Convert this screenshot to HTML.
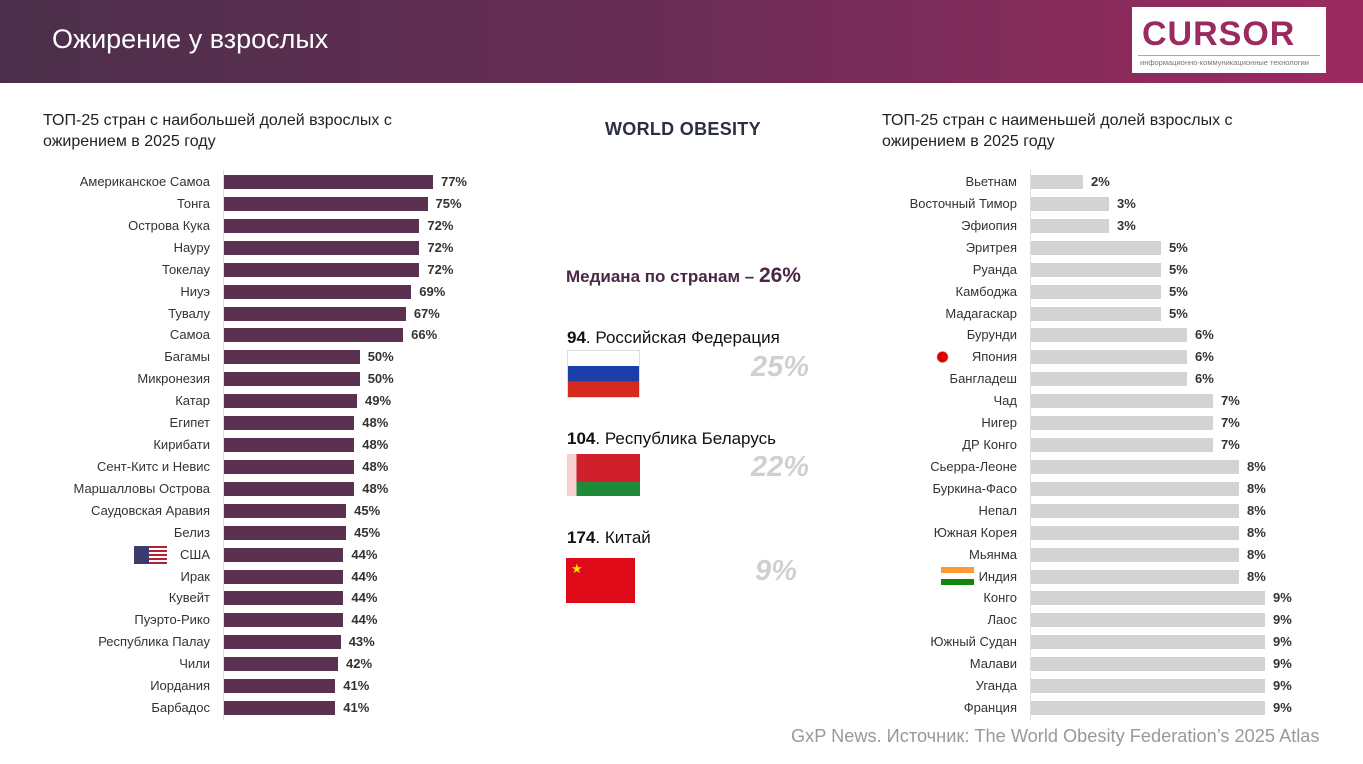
<!DOCTYPE html>
<html><head><meta charset="utf-8"><style>
body{margin:0;width:1363px;height:764px;position:relative;overflow:hidden;background:#fff;font-family:"Liberation Sans","DejaVu Sans",sans-serif;}
.abs{position:absolute;}
#header{left:0;top:0;width:1363px;height:83px;background:linear-gradient(90deg,#4b2f4a 0%,#6a2d55 50%,#9b2a5f 100%);}
#title{left:52px;top:24px;color:#fff;font-size:27px;}
#logo{left:1132px;top:7px;width:194px;height:66px;background:#fff;}
.ct{font-size:16px;color:#222;line-height:21px;}
.lbl{font-size:13px;color:#333;text-align:right;width:220px;white-space:nowrap;}
.val{font-size:13px;font-weight:bold;color:#333;}
.big{font-size:29px;font-weight:bold;font-style:italic;color:#d0d0d0;}
.nm{font-size:17px;color:#111;}
</style></head><body>
<div id="header" class="abs"></div>
<div id="title" class="abs">Ожирение у взрослых</div>
<div id="logo" class="abs">
 <div class="abs" style="left:10px;top:8px;font-size:34px;font-weight:bold;color:#9b2a5f;letter-spacing:1px;">CURSOR</div>
 <div class="abs" style="left:6px;top:48px;width:182px;border-top:1px solid #c9a;"></div>
 <div class="abs" style="left:8px;top:51px;font-size:7.5px;color:#777;white-space:nowrap;">информационно-коммуникационные технологии</div>
</div>
<div class="abs ct" style="left:43px;top:110px;">ТОП-25 стран с наибольшей долей взрослых с<br>ожирением в 2025 году</div>
<div class="abs ct" style="left:882px;top:110px;">ТОП-25 стран с наименьшей долей взрослых с<br>ожирением в 2025 году</div>
<div class="abs" style="left:605px;top:119px;font-size:18px;font-weight:bold;color:#2a2f45;letter-spacing:0.3px;">WORLD OBESITY</div>
<div class="abs" style="left:566px;top:264px;font-size:17px;font-weight:bold;color:#4a2845;">Медиана по странам – <span style="font-size:21px">26%</span></div>

<div class="abs nm" style="left:567px;top:328px;"><b>94</b>. Российская Федерация</div>
<div class="abs" style="left:567px;top:350px;width:73px;height:48px;background:linear-gradient(#fff 0 33%,#1a3fa8 33% 66%,#d52b1e 66%);box-shadow:0 0 0 1px #ddd inset;"></div>
<div class="abs big" style="left:751px;top:351px;">25%</div>
<div class="abs nm" style="left:567px;top:429px;"><b>104</b>. Республика Беларусь</div>
<div class="abs" style="left:567px;top:454px;width:73px;height:42px;background:linear-gradient(90deg,#f4d0d0 0 13%,transparent 13%),linear-gradient(#cf1f2a 0 66%,#1e8a3a 66%);"></div>
<div class="abs big" style="left:751px;top:451px;">22%</div>
<div class="abs nm" style="left:567px;top:528px;"><b>174</b>. Китай</div>
<div class="abs" style="left:566px;top:558px;width:69px;height:45px;background:#de0a17;"><span style="position:absolute;left:5px;top:3px;color:#ffde00;font-size:13px;">★</span></div>
<div class="abs big" style="left:755px;top:555px;">9%</div>

<div class="abs" style="left:791px;top:726px;font-size:18.2px;color:#999;white-space:nowrap;">GxP News. Источник: The World Obesity Federation’s 2025 Atlas</div>

<div id="left"></div>
<div id="right"></div>
<script>
const leftCats=["Американское Самоа","Тонга","Острова Кука","Науру","Токелау","Ниуэ","Тувалу","Самоа","Багамы","Микронезия","Катар","Египет","Кирибати","Сент-Китс и Невис","Маршалловы Острова","Саудовская Аравия","Белиз","США","Ирак","Кувейт","Пуэрто-Рико","Республика Палау","Чили","Иордания","Барбадос"];
const leftVals=[77,75,72,72,72,69,67,66,50,50,49,48,48,48,48,45,45,44,44,44,44,43,42,41,41];
const rightCats=["Вьетнам","Восточный Тимор","Эфиопия","Эритрея","Руанда","Камбоджа","Мадагаскар","Бурунди","Япония","Бангладеш","Чад","Нигер","ДР Конго","Сьерра-Леоне","Буркина-Фасо","Непал","Южная Корея","Мьянма","Индия","Конго","Лаос","Южный Судан","Малави","Уганда","Франция"];
const rightVals=[2,3,3,5,5,5,5,6,6,6,7,7,7,8,8,8,8,8,8,9,9,9,9,9,9];
function chart(id,cats,vals,x0,pxPer,color){
 const root=document.getElementById(id);
 const y0=182,step=21.92;
 const ax=document.createElement('div');ax.className='abs';
 ax.style.cssText=`left:${x0-1}px;top:170px;width:1px;height:550px;background:#ddd`;
 root.appendChild(ax);
 cats.forEach((c,i)=>{
  const y=y0+i*step, w=vals[i]*pxPer;
  const l=document.createElement('div');l.className='abs lbl';
  
  
  l.style.left=(x0-234)+'px';l.style.top=(y-8)+'px';l.textContent=c;root.appendChild(l);
  const b=document.createElement('div');b.className='abs';
  
  
  b.style.cssText=`left:${x0}px;top:${y-7}px;width:${w}px;height:14px;background:${color}`;root.appendChild(b);
  const v=document.createElement('div');v.className='abs val';
  
  
  v.style.left=(x0+w+8)+'px';v.style.top=(y-8)+'px';v.textContent=vals[i]+'%';root.appendChild(v);
 });
}
chart('left',leftCats,leftVals,224,2.714,'#5a3150');
chart('right',rightCats,rightVals,1031,26,'#d3d3d3');
function flag(name,left,top,bg){const f=document.createElement('div');f.className='abs';
 
 
 f.style.cssText=`left:${left}px;top:${top}px;width:33px;height:18px;background:${bg}`;document.body.appendChild(f);}
flag('usa-flag',134,546,'linear-gradient(90deg,#3c3b6e 0 45%,transparent 45%),repeating-linear-gradient(#b22234 0 2px,#fff 2px 4px)');
flag('japan-flag',926,348,'radial-gradient(circle,#d00 0 5px,#fff 6px)');
flag('india-flag',941,567,'linear-gradient(#f93 0 33%,#fff 33% 66%,#128807 66%)');
</script>
</body></html>
